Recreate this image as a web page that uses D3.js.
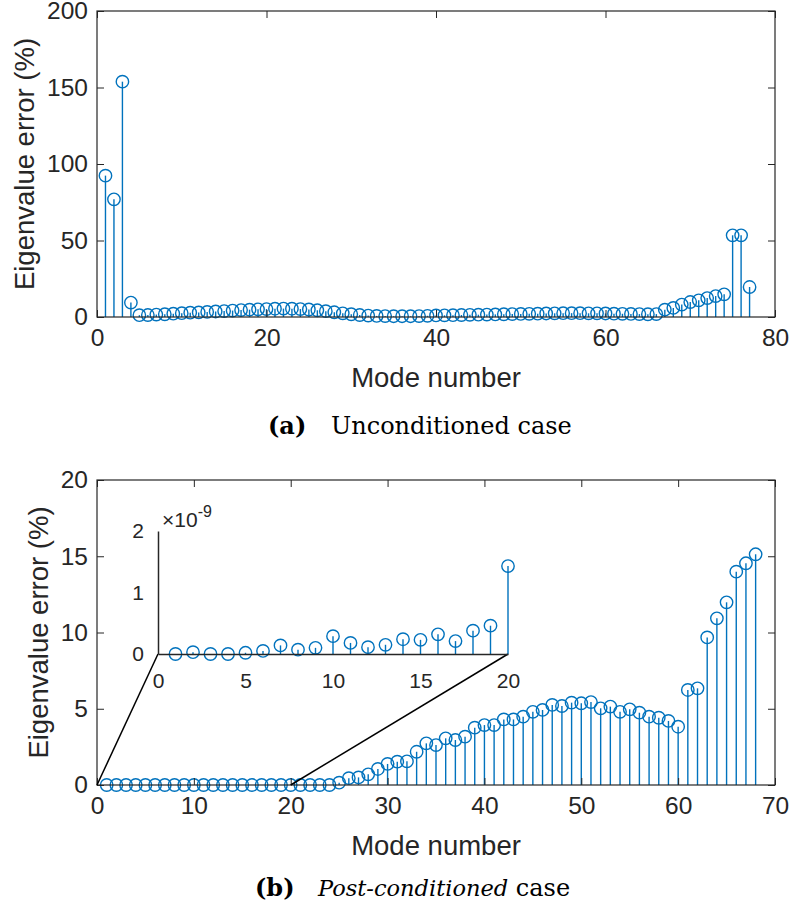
<!DOCTYPE html>
<html>
<head>
<meta charset="utf-8">
<script src="https://cdn.jsdelivr.net/npm/d3@7"></script>
<style>
  body { margin: 0; background: #fff; }
  svg { display: block; }
</style>
</head>
<body>
<div id="chart"></div>
<script>
// (a) unconditioned case, error in % for modes 1..77
const errA = [92.4, 76.9, 153.8, 9.4, 1.2, 1.3, 1.6, 1.8, 2.2, 2.5,
  2.8, 3.0, 3.3, 3.6, 3.9, 4.2, 4.5, 4.8, 5.0, 5.2,
  5.4, 5.5, 5.4, 5.2, 4.9, 4.4, 3.8, 3.1, 2.4, 1.8,
  1.3, 0.9, 0.7, 0.6, 0.5, 0.5, 0.5, 0.6, 0.8, 1.0,
  1.1, 1.2, 1.3, 1.4, 1.5, 1.6, 1.7, 1.8, 1.9, 2.0,
  2.1, 2.2, 2.3, 2.4, 2.5, 2.5, 2.5, 2.4, 2.4, 2.3,
  2.2, 2.1, 2.0, 1.9, 1.8, 1.9, 4.8, 5.9, 8.1, 9.8,
  10.9, 12.4, 13.7, 14.8, 53.4, 53.4, 19.6];

// (b) post-conditioned: first 20 modes (units of 1e-9 %), shown in the inset
const errBInset = [0.0, 0.03, 0.0, 0.0, 0.02, 0.05, 0.14, 0.07, 0.10, 0.29,
  0.18, 0.11, 0.15, 0.24, 0.23, 0.32, 0.21, 0.38, 0.46, 1.43];
// modes 21..68 in %
const errBRest = [0.0, 0.0, 0.0, 0.0, 0.15, 0.45, 0.5, 0.7, 1.05, 1.38,
  1.53, 1.55, 2.18, 2.73, 2.62, 3.06, 2.95, 3.17, 3.76, 3.93,
  3.93, 4.3, 4.3, 4.48, 4.8, 4.92, 5.25, 5.18, 5.4, 5.36,
  5.44, 5.03, 5.14, 4.8, 4.96, 4.74, 4.48, 4.41, 4.2, 3.82,
  6.23, 6.34, 9.68, 10.93, 11.98, 13.99, 14.54, 15.13];

const ticksA_x = [0, 20, 40, 60, 80];
const ticksA_y = [0, 50, 100, 150, 200];
const ticksB_x = [0, 10, 20, 30, 40, 50, 60, 70];
const ticksB_y = [0, 5, 10, 15, 20];
const ticksIn_x = [0, 5, 10, 15, 20];
const ticksIn_y = [0, 1, 2];

const dataA = errA.map((v, i) => ({ m: i + 1, v: v }));
const dataB = errBInset.map((v, i) => ({ m: i + 1, v: v * 1e-9 }))
  .concat(errBRest.map((v, i) => ({ m: i + 21, v: v })));
const dataIn = errBInset.map((v, i) => ({ m: i + 1, v: v }));

const width = 791, height = 913;
const blue = "#0072BD", ink = "#262626";
const sans = "'Liberation Sans', Arial, sans-serif";
const serif = "'DejaVu Serif', serif";

const svg = d3.select("#chart").append("svg")
  .attr("width", width).attr("height", height)
  .attr("font-family", sans);

function stems(g, data, x, y, r) {
  g.append("g").selectAll("line").data(data).join("line")
    .attr("x1", d => x(d.m)).attr("x2", d => x(d.m))
    .attr("y1", y(0)).attr("y2", d => y(d.v))
    .attr("stroke", blue).attr("stroke-width", 1.4);
  g.append("g").selectAll("circle").data(data).join("circle")
    .attr("cx", d => x(d.m)).attr("cy", d => y(d.v)).attr("r", r)
    .attr("fill", "none").attr("stroke", blue).attr("stroke-width", 1.4);
}

function panel(box, xDom, yDom, xt, yt, data, ylabX) {
  const x = d3.scaleLinear().domain(xDom).range([box.x0, box.x1]);
  const y = d3.scaleLinear().domain(yDom).range([box.y1, box.y0]);
  const g = svg.append("g");

  stems(g, data, x, y, 6.2);

  const style = a => {
    a.attr("font-family", sans).attr("font-size", 24.5);
    a.select(".domain").remove();
    a.selectAll("line").attr("stroke", ink).attr("stroke-width", 1);
    a.selectAll("text").attr("fill", ink);
  };
  g.append("g").attr("transform", `translate(0,${box.y1})`)
    .call(d3.axisBottom(x).tickValues(xt).tickSize(-7).tickPadding(12)).call(style);
  g.append("g").attr("transform", `translate(0,${box.y0})`)
    .call(d3.axisTop(x).tickValues(xt).tickSize(-7).tickFormat("")).call(style);
  g.append("g").attr("transform", `translate(${box.x0},0)`)
    .call(d3.axisLeft(y).tickValues(yt).tickSize(-7).tickPadding(9)).call(style);
  g.append("g").attr("transform", `translate(${box.x1},0)`)
    .call(d3.axisRight(y).tickValues(yt).tickSize(-7).tickFormat("")).call(style);

  g.append("rect").attr("x", box.x0).attr("y", box.y0)
    .attr("width", box.x1 - box.x0).attr("height", box.y1 - box.y0)
    .attr("fill", "none").attr("stroke", ink).attr("stroke-width", 1.2);

  g.append("text").attr("x", (box.x0 + box.x1) / 2).attr("y", box.y1 + 70)
    .attr("text-anchor", "middle").attr("fill", ink).attr("font-size", 27.5)
    .text("Mode number");
  g.append("text")
    .attr("transform", `translate(${ylabX},${(box.y0 + box.y1) / 2}) rotate(-90)`)
    .attr("text-anchor", "middle").attr("fill", ink).attr("font-size", 27.5)
    .text("Eigenvalue error (%)");
  return { x, y };
}

// (a)
const boxA = { x0: 97, x1: 775, y0: 11, y1: 317 };
panel(boxA, [0, 80], [0, 200], ticksA_x, ticksA_y, dataA, 34);

// (b)
const boxB = { x0: 97, x1: 775, y0: 480, y1: 785 };
const pb = panel(boxB, [0, 70], [0, 20], ticksB_x, ticksB_y, dataB, 48);

// inset
const boxI = { x0: 158, x1: 508, y0: 531, y1: 654 };
const xi = d3.scaleLinear().domain([0, 20]).range([boxI.x0, boxI.x1]);
const yi = d3.scaleLinear().domain([0, 2]).range([boxI.y1, boxI.y0]);
const gi = svg.append("g");

gi.append("line")
  .attr("x1", pb.x(0)).attr("y1", pb.y(0)).attr("x2", xi(0)).attr("y2", yi(0))
  .attr("stroke", "#000").attr("stroke-width", 1.5);
gi.append("line")
  .attr("x1", pb.x(20)).attr("y1", pb.y(0)).attr("x2", xi(20)).attr("y2", yi(0))
  .attr("stroke", "#000").attr("stroke-width", 1.5);

stems(gi, dataIn, xi, yi, 6.2);

const inStyle = a => {
  a.attr("font-family", sans).attr("font-size", 21);
  a.selectAll(".tick line").remove();
  a.select(".domain").attr("stroke", ink).attr("stroke-width", 1.5);
  a.selectAll("text").attr("fill", ink);
};
gi.append("g").attr("transform", `translate(0,${boxI.y1})`)
  .call(d3.axisBottom(xi).tickValues(ticksIn_x).tickSizeOuter(0).tickPadding(13)).call(inStyle);
gi.append("g").attr("transform", `translate(${boxI.x0},0)`)
  .call(d3.axisLeft(yi).tickValues(ticksIn_y).tickFormat(d3.format("d"))
    .tickSizeOuter(0).tickPadding(8)).call(inStyle);

const exp = gi.append("text").attr("x", boxI.x0 + 4).attr("y", boxI.y0 - 4)
  .attr("fill", ink).attr("font-size", 21);
exp.append("tspan").text("\u00d710");
exp.append("tspan").attr("dy", -10).attr("font-size", 16).text("-9");

// subcaptions
const capA = svg.append("text").attr("x", 268).attr("y", 434)
  .attr("fill", "#000").attr("font-family", serif).attr("font-size", 24);
capA.append("tspan").attr("font-weight", "bold").text("(a)");
capA.append("tspan").attr("x", 331).text("Unconditioned case");

const capB = svg.append("text").attr("x", 255).attr("y", 896)
  .attr("fill", "#000").attr("font-family", serif).attr("font-size", 24);
capB.append("tspan").attr("font-weight", "bold").text("(b)");
capB.append("tspan").attr("x", 318).attr("font-style", "italic")
  .attr("font-size", 22.5).text("Post-conditioned");
capB.append("tspan").text(" case");
</script>
</body>
</html>
